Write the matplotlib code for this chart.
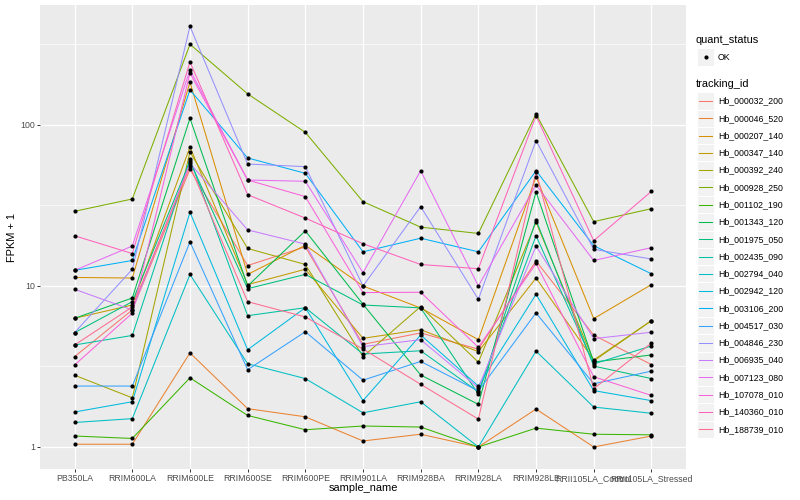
import numpy as np
import matplotlib.pyplot as plt
from matplotlib.patches import Rectangle
from matplotlib.lines import Line2D
from matplotlib.ticker import NullFormatter

plt.rcParams['font.family'] = ['Liberation Sans', 'DejaVu Sans']

# samples along the x axis
samples = ["PB350LA", "RRIM600LA", "RRIM600LE", "RRIM600SE", "RRIM600PE",
           "RRIM901LA", "RRIM928BA", "RRIM928LA", "RRIM928LE",
           "RRII105LA_Control", "RRII105LA_Stressed"]

tracking_ids = ["Hb_000032_200", "Hb_000046_520", "Hb_000207_140", "Hb_000347_140",
                "Hb_000392_240", "Hb_000928_250", "Hb_001102_190", "Hb_001343_120",
                "Hb_001975_050", "Hb_002435_090", "Hb_002794_040", "Hb_002942_120",
                "Hb_003106_200", "Hb_004517_030", "Hb_004846_230", "Hb_006935_040",
                "Hb_007123_080", "Hb_107078_010", "Hb_140360_010", "Hb_188739_010"]

# ggplot hue palette, 20 levels
colors = ["#F8766D", "#EA8331", "#D89000", "#C09B00", "#A3A500", "#7CAE00", "#39B600",
          "#00BB4E", "#00BF7D", "#00C1A3", "#00BFC4", "#00BAE0", "#00B0F6", "#35A2FF",
          "#9590FF", "#C77CFF", "#E76BF3", "#FA62DB", "#FF62BC", "#FF6C91"]

# FPKM + 1 per gene, one value per sample
hb_000032_200 = [3.64, 7.10, 53.1, 13.4, 17.5, 4.34, 5.11, 4.05, 14.3, 4.95, 3.25]
hb_000046_520 = [1.04, 1.04, 3.84, 1.73, 1.54, 1.09, 1.20, 1.00, 1.72, 1.00, 1.17]
hb_000207_140 = [11.3, 11.2, 184, 11.8, 17.9, 10.0, 7.30, 4.64, 47.7, 6.27, 10.2]
hb_000347_140 = [6.30, 7.62, 73.0, 10.2, 12.7, 4.73, 5.35, 3.91, 11.2, 3.47, 6.09]
hb_000392_240 = [2.79, 2.02, 68.0, 17.1, 13.6, 3.64, 7.45, 3.36, 24.9, 3.42, 6.09]
hb_000928_250 = [29.1, 34.7, 317, 156, 90.0, 33.4, 23.2, 21.2, 117, 25.1, 30.2]
hb_001102_190 = [1.17, 1.13, 2.69, 1.57, 1.28, 1.35, 1.33, 1.00, 1.31, 1.20, 1.19]
hb_001343_120 = [6.30, 8.42, 110, 10.0, 22.0, 7.70, 2.80, 1.84, 38.4, 3.37, 3.73]
hb_001975_050 = [5.13, 7.99, 59.5, 9.62, 11.8, 7.62, 7.31, 2.13, 25.7, 3.18, 2.66]
hb_002435_090 = [4.30, 4.93, 61.2, 6.54, 7.33, 3.78, 3.96, 2.20, 20.5, 3.28, 4.24]
hb_002794_040 = [1.42, 1.50, 11.8, 3.29, 2.66, 1.63, 1.91, 1.00, 3.94, 1.77, 1.62]
hb_002942_120 = [1.65, 1.91, 28.7, 4.02, 7.33, 1.94, 4.96, 2.39, 8.88, 2.24, 1.94]
hb_003106_200 = [12.5, 14.4, 165, 62.4, 50.1, 16.3, 19.8, 16.3, 52.0, 17.8, 11.9]
hb_004517_030 = [2.39, 2.39, 18.8, 3.02, 5.20, 2.60, 3.40, 2.23, 6.80, 2.47, 2.96]
hb_004846_230 = [5.13, 12.7, 410, 57.2, 55.1, 10.0, 31.1, 8.27, 80.0, 16.9, 14.7]
hb_006935_040 = [9.54, 7.10, 57.8, 22.3, 18.2, 4.20, 4.64, 2.33, 17.7, 4.71, 5.16]
hb_007123_080 = [12.5, 17.7, 220, 45.5, 44.7, 12.1, 52.0, 10.0, 42.4, 14.4, 17.3]
hb_107078_010 = [3.23, 6.78, 210, 45.5, 35.9, 9.10, 9.14, 4.16, 13.8, 2.73, 2.09]
hb_140360_010 = [20.5, 15.9, 246, 36.9, 26.4, 18.3, 13.6, 12.8, 114, 19.1, 38.7]
hb_188739_010 = [4.30, 7.41, 55.6, 7.99, 6.42, 4.06, 2.45, 1.49, 51.3, 2.30, 4.42]

series = [hb_000032_200, hb_000046_520, hb_000207_140, hb_000347_140, hb_000392_240,
          hb_000928_250, hb_001102_190, hb_001343_120, hb_001975_050, hb_002435_090,
          hb_002794_040, hb_002942_120, hb_003106_200, hb_004517_030, hb_004846_230,
          hb_006935_040, hb_007123_080, hb_107078_010, hb_140360_010, hb_188739_010]

W, H = 800, 500
fig = plt.figure(figsize=(8, 5), dpi=100)
fig.patch.set_facecolor('white')
ax = fig.add_axes([40 / W, 1 - 469 / H, 646 / W, 464 / H])
ax.set_facecolor('#EBEBEB')

x = np.arange(len(samples))
for vals, c in zip(series, colors):
    ax.plot(x, vals, color=c, lw=0.75, zorder=2)
for vals in series:
    ax.plot(x, vals, linestyle='', marker='o', color='black', ms=3, mec='none', zorder=3)

ax.set_yscale('log')
ax.set_ylim(0.73, 556)
ax.set_xlim(-0.6, len(samples) - 0.4)
ax.set_xticks(x)
ax.set_xticklabels(samples)
ax.set_yticks([1, 10, 100])
ax.set_yticklabels(['1', '10', '100'])
ax.set_yticks([10 ** 0.5, 10 ** 1.5, 10 ** 2.5], minor=True)
ax.yaxis.set_minor_formatter(NullFormatter())
ax.tick_params(axis='both', which='major', length=2, width=0.7, color='#333333',
               labelsize=6.3, labelcolor='#4D4D4D', pad=1.5)
ax.tick_params(axis='y', which='minor', length=0)
ax.grid(which='major', color='white', lw=0.9)
ax.grid(which='minor', axis='y', color='white', lw=0.45)
ax.set_axisbelow(True)
for s in ax.spines.values():
    s.set_visible(False)

fig.text(363 / W, 1 - 488 / H, 'sample_name', fontsize=7.9, ha='center', va='center')
fig.text(12 / W, 1 - 237 / H, 'FPKM + 1', fontsize=7.9, ha='center', va='center', rotation=90)

# legends, drawn by hand in figure coordinates
key = 17.28
kx = 697
fig.text(696 / W, 1 - 40 / H, 'quant_status', fontsize=7.9, va='center')
fig.add_artist(Rectangle((kx / W, 1 - (57 + key / 2) / H), key / W, key / H,
                         transform=fig.transFigure, facecolor='#F2F2F2', edgecolor='white', lw=0.7))
fig.add_artist(Line2D([(kx + key / 2) / W], [1 - 57 / H], marker='o', color='black', ms=3,
                      mec='none', transform=fig.transFigure))
fig.text(718 / W, 1 - 57 / H, 'OK', fontsize=6.3, va='center')

fig.text(696 / W, 1 - 84 / H, 'tracking_id', fontsize=7.9, va='center')
for i, (name, c) in enumerate(zip(tracking_ids, colors)):
    yc = 101 + i * key
    fig.add_artist(Rectangle((kx / W, 1 - (yc + key / 2) / H), key / W, key / H,
                             transform=fig.transFigure, facecolor='#F2F2F2',
                             edgecolor='white', lw=0.7))
    fig.add_artist(Line2D([(kx + 2) / W, (kx + key - 2) / W], [1 - yc / H, 1 - yc / H],
                          color=c, lw=0.75, transform=fig.transFigure))
    fig.text(718 / W, 1 - yc / H, name, fontsize=6.3, va='center')

fig.savefig('out.png', dpi=100)
